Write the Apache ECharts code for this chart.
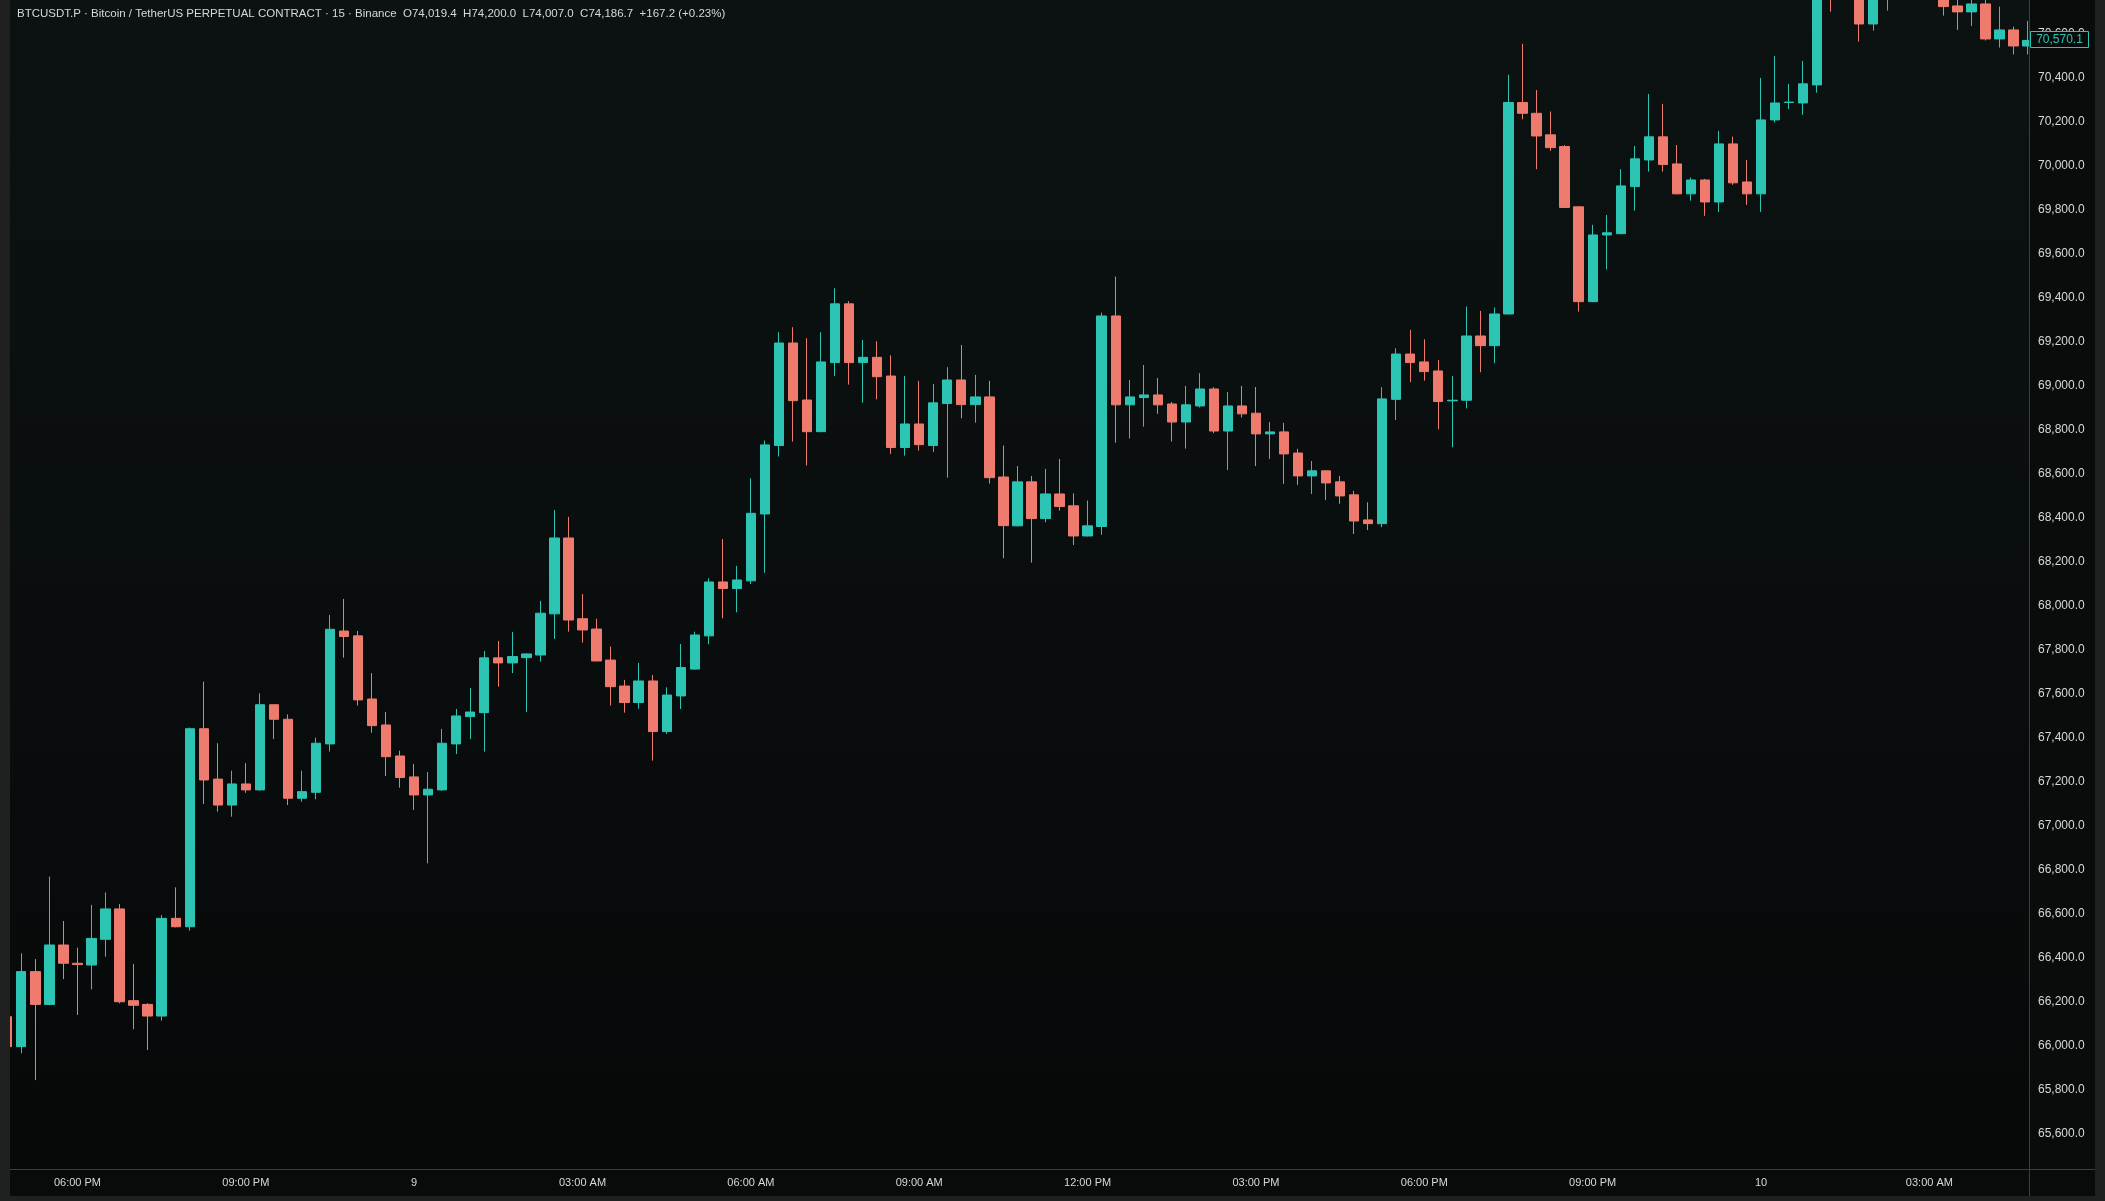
<!DOCTYPE html>
<html><head><meta charset="utf-8">
<script src="https://cdn.jsdelivr.net/npm/echarts@6/dist/echarts.min.js"></script>
<style>html,body{margin:0;padding:0;background:#0a0d0d;overflow:hidden}#c{width:2105px;height:1201px}</style>
</head><body><div id="c"></div>
<script>
// ---- data (15-minute candles, BTCUSDT.P) ----
const opens = [
66133,65997,66338,66189,66459,66376,66368,66485,66623,66206,
66189,66136,66580,66542,67442,67213,67095,67191,67164,67551,
67485,67126,67153,67373,67886,67864,67577,67459,67318,67223,
67141,67164,67373,67497,67515,67764,67741,67765,67777,67964,
68309,67942,67895,67754,67636,67561,67659,67429,67591,67713,
67864,68109,68079,68114,68418,68729,69195,68936,68792,69106,
69373,69106,69130,69045,68720,68827,68729,68920,69027,68915,
68950,68586,68364,68564,68397,68509,68455,68318,68361,69318,
68914,68947,68959,68918,68836,68909,68986,68795,68909,68876,
68782,68791,68695,68591,68614,68564,68505,68391,68374,68939,
69145,69109,69068,68932,68935,69227,69183,69327,70288,70239,
70141,70088,69814,69383,69686,69692,69906,70027,70132,70009,
69873,69936,69836,70100,69927,69873,70209,70288,70286,70368,
70900,70850,70950,70645,70880,70920,70980,70900,70860,70727,
70700,70736,70577,70618,70545];
const closes = [
65997,66338,66189,66459,66376,66370,66489,66623,66201,66185,
66136,66580,66542,67442,67209,67095,67191,67164,67551,67485,
67126,67156,67376,67894,67861,67573,67456,67315,67220,67141,
67167,67376,67500,67518,67764,67741,67770,67782,67967,68309,
67936,67891,67750,67633,67561,67659,67429,67595,67720,67868,
68109,68079,68118,68421,68732,69195,68933,68792,69109,69373,
69106,69130,69042,68720,68827,68733,68923,69027,68915,68950,
68583,68365,68564,68397,68509,68452,68318,68364,69318,68914,
68950,68959,68914,68836,68914,68986,68795,68909,68873,68782,
68791,68691,68591,68614,68559,68500,68386,68374,68941,69145,
69106,69065,68929,68935,69227,69183,69327,70288,70239,70136,
70083,69811,69383,69686,69696,69909,70032,70132,70006,69873,
69936,69836,70100,69923,69873,70209,70286,70290,70373,70900,
70850,70950,70645,70880,70920,70980,70900,70860,70724,70700,
70736,70577,70618,70545,70570.1];
const lows = [
65985,65967,65845,66185,66304,66141,66257,66406,66194,66076,
65982,66115,66539,66524,67100,67065,67042,67151,67160,67395,
67095,67110,67121,67338,67765,67547,67424,67227,67174,67073,
66830,67160,67327,67395,67338,67633,67695,67518,67747,67850,
67883,67833,67748,67547,67515,67533,67297,67418,67532,67710,
67826,67944,67971,68100,68151,68679,68747,68638,68790,69045,
69006,68924,68939,68691,68683,68706,68700,68583,68853,68833,
68556,68217,68362,68197,68380,68433,68277,68316,68323,68742,
68761,68815,68873,68747,68715,68902,68785,68618,68856,68636,
68668,68555,68550,68509,68482,68464,68327,68345,68358,68845,
69017,69024,68803,68721,68898,69062,69103,69325,70212,69985,
70068,69809,69338,69381,69530,69690,69797,69974,69974,69871,
69842,69773,69790,69914,69823,69791,70197,70259,70232,70333,
70701,70800,70565,70615,70706,70850,70830,70790,70683,70618,
70636,70570,70538,70507,70507];
const highs = [
66150,66421,66395,66770,66568,66447,66641,66698,66645,66373,
66194,66595,66721,67447,67656,67376,67251,67285,67603,67553,
67507,67251,67401,67959,68032,67886,67695,67518,67342,67282,
67245,67441,67532,67627,67795,67841,67882,67785,68023,68436,
68405,68054,67942,67815,67664,67741,67686,67630,67827,67883,
68126,68304,68182,68580,68752,69244,69267,69217,69244,69444,
69385,69209,69203,69139,69045,69023,69009,69085,69186,69050,
69023,68729,68636,68591,68623,68668,68512,68479,69333,69497,
69027,69095,69036,68927,69000,69058,68994,68973,69000,68995,
68836,68832,68714,68659,68616,68591,68523,68471,68994,69171,
69255,69212,69118,69045,69361,69341,69356,70414,70555,70345,
70247,70095,69816,69732,69777,69985,70091,70327,70282,70095,
69947,69941,70159,70133,70027,70400,70500,70373,70477,70950,
71000,71050,71000,70950,71000,71050,71020,70950,70900,70800,
70790,70780,70724,70633,70659];
// category = bar open time (first bar 16:45 on the 8th, 15-minute bars)
const categories = [];
for (let i = 0; i < opens.length; i++) {
  const m = (16 * 60 + 45 + 15 * i) % 1440;
  categories.push(String(Math.floor(m / 60)).padStart(2, '0') + ':' + String(m % 60).padStart(2, '0'));
}
const xTickIndex = [5, 17, 29, 41, 53, 65, 77, 89, 101, 113, 125, 137];
const xTickLabels = ['06:00 PM','09:00 PM','9','03:00 AM','06:00 AM','09:00 AM','12:00 PM','03:00 PM','06:00 PM','09:00 PM','10','03:00 AM'];
const yMin = 65400, yMax = 70754, yStep = 200;
const headerText = 'BTCUSDT.P \u00b7 Bitcoin / TetherUS PERPETUAL CONTRACT \u00b7 15 \u00b7 Binance  O74,019.4  H74,200.0  L74,007.0  C74,186.7  +167.2 (+0.23%)';

// ---- styles ----
const UP = '#2cc5b3', DOWN = '#ee7b6d';
const FONT = 'Liberation Sans, Arial, sans-serif';
const FRAME = '#1f2020', LINE = '#3c3e3e', TXT = '#d6d8dc';

const candleData = opens.map((o, i) => [o, closes[i], lows[i], highs[i]]);

const chart = echarts.init(document.getElementById('c'), null, {renderer: 'canvas', devicePixelRatio: 1});
chart.setOption({
  animation: false,
  backgroundColor: '#0a0d0d',
  grid: {left: 0.29, right: 70.4, top: 0, bottom: 23, containLabel: false, outerBoundsMode: 'none'},
  xAxis: {
    type: 'category', data: categories, boundaryGap: true, offset: -9, z: 10,
    axisLine: {show: false}, axisTick: {show: false}, splitLine: {show: false},
    axisLabel: {
      interval: (i) => xTickIndex.indexOf(i) >= 0,
      formatter: (v, i) => { const k = xTickIndex.indexOf(i); return k >= 0 ? xTickLabels[k] : ''; },
      color: TXT, fontSize: 11, fontFamily: FONT, margin: 8
    }
  },
  yAxis: {
    type: 'value', position: 'right', min: yMin, max: yMax, interval: yStep, offset: -5.6, z: 10,
    axisLine: {show: false}, axisTick: {show: false}, splitLine: {show: false},
    axisLabel: {
      showMinLabel: false, showMaxLabel: false, margin: 9, align: 'left',
      color: TXT, fontSize: 12, fontFamily: FONT,
      formatter: (v) => (v % yStep === 0) ? v.toLocaleString('en-US', {minimumFractionDigits: 1, maximumFractionDigits: 1}) : ''
    }
  },
  series: [{
    type: 'candlestick', data: candleData, barWidth: 9.8, clip: true, z: 2,
    itemStyle: {color: UP, color0: DOWN, borderColor: UP, borderColor0: DOWN, borderWidth: 1}
  }],
  graphic: []
});

// price label for last close, positioned by the axis scale
const last = closes[closes.length - 1];
const py = chart.convertToPixel({yAxisIndex: 0}, last);
chart.setOption({
  graphic: [
    {type: 'rect', z: 0, silent: true, shape: {x: 10, y: 0, width: 2019, height: 1169},
     style: {fill: new echarts.graphic.LinearGradient(0, 0, 0, 1, [{offset: 0, color: '#0c1212'}, {offset: 1, color: '#070909'}])}},
    {type: 'rect', z: 5, silent: true, shape: {x: 2029, y: 0, width: 66, height: 1196}, style: {fill: '#0a0c0c'}},
    {type: 'rect', z: 5, silent: true, shape: {x: 10, y: 1169, width: 2085, height: 27}, style: {fill: '#090b0b'}},
    {type: 'rect', z: 6, silent: true, shape: {x: 0, y: 0, width: 10, height: 1201}, style: {fill: FRAME}},
    {type: 'rect', z: 6, silent: true, shape: {x: 2095, y: 0, width: 10, height: 1201}, style: {fill: FRAME}},
    {type: 'rect', z: 6, silent: true, shape: {x: 0, y: 1196, width: 2105, height: 5}, style: {fill: FRAME}},
    {type: 'line', z: 7, silent: true, shape: {x1: 10, y1: 1169.5, x2: 2095, y2: 1169.5}, style: {stroke: LINE, lineWidth: 1}},
    {type: 'line', z: 7, silent: true, shape: {x1: 2029.5, y1: 0, x2: 2029.5, y2: 1196}, style: {stroke: LINE, lineWidth: 1}},
    {type: 'rect', z: 20, silent: true, shape: {x: 2030.5, y: Math.round(py) - 8.5, width: 58, height: 16},
     style: {fill: '#0a0c0c', stroke: UP, lineWidth: 1}},
    {type: 'text', z: 21, silent: true, x: 2059.5, y: Math.round(py),
     style: {text: last.toLocaleString('en-US', {minimumFractionDigits: 1, maximumFractionDigits: 1}),
             fill: UP, font: '12px ' + FONT, align: 'center', verticalAlign: 'middle'}},
    {type: 'text', z: 21, silent: true, x: 17, y: 14,
     style: {text: headerText, fill: TXT, font: '11.5px ' + FONT, align: 'left', verticalAlign: 'middle'}}
  ]
});
</script></body></html>
